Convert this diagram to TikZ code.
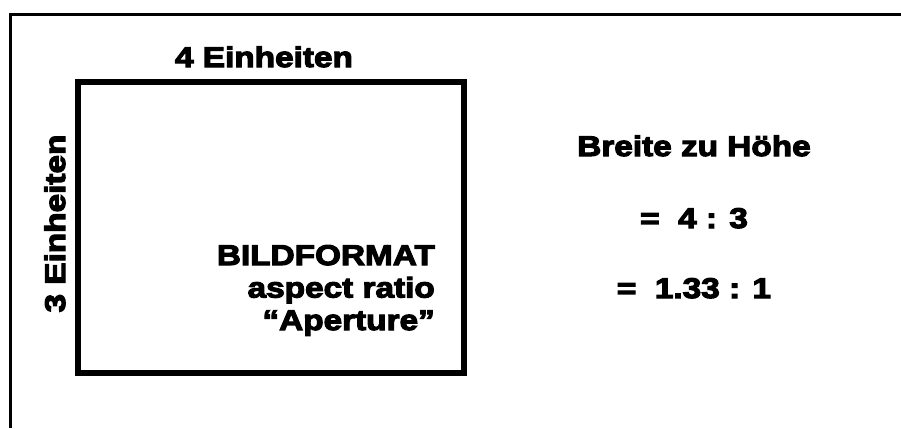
\documentclass[tikz,border=0pt]{standalone}
\usepackage{fontspec}
\newfontfamily\heavy{Liberation Sans}[FakeStretch=1.17,FakeBold=4]
\begin{document}
\begin{tikzpicture}[x=1pt,y=-1pt,
  lbl/.style={inner sep=0pt,font=\heavy\bfseries\fontsize{28.5}{34}\selectfont}]
\useasboundingbox (0,0) rectangle (901,428);
\fill[white] (0,0) rectangle (901,428);
% outer frame lines
\coordinate (tl) at (10.5,14.5);
\coordinate (tr) at (901,14.5);
\coordinate (bl) at (10.5,428);
\draw[line width=2.5pt] (tr) -- (tl) -- (bl);
% picture frame
\node[draw,line width=6pt,minimum width=386pt,minimum height=291pt,inner sep=0pt,anchor=north west] (frame) at (75,79) {};
\node[lbl,anchor=base] (w) at (264,67) {4 Einheiten};
\node[lbl,anchor=base,rotate=90] (h) at (65,223.5) {3 Einheiten};
\node[lbl,anchor=base east] (t1) at (435,265) {BILDFORMAT};
\node[lbl,anchor=base east] (t2) at (435,297.5) {aspect ratio};
\node[lbl,anchor=base east] (t3) at (435,330) {“Aperture”};
\node[lbl,anchor=base] (r1) at (694,156) {Breite zu Höhe};
\node[lbl,anchor=base] (r2) at (694,228) {=\ \ 4 : 3};
\node[lbl,anchor=base] (r3) at (694,298) {=\ \ 1.33 : 1};
\end{tikzpicture}
\end{document}
